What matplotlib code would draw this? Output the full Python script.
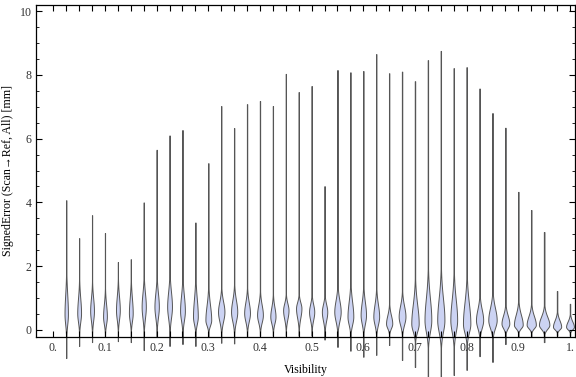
import matplotlib
matplotlib.use("Agg")
import matplotlib.pyplot as plt
import numpy as np


# Visibility bins (centre of each bin) and the distribution of the signed error per bin
visibility = [0.025, 0.05, 0.075, 0.1, 0.125, 0.15, 0.175, 0.2, 0.225, 0.25,
              0.275, 0.3, 0.325, 0.35, 0.375, 0.4, 0.425, 0.45, 0.475, 0.5,
              0.525, 0.55, 0.575, 0.6, 0.625, 0.65, 0.675, 0.7, 0.725, 0.75,
              0.775, 0.8, 0.825, 0.85, 0.875, 0.9, 0.925, 0.95, 0.975, 1.0]

err_min = [-0.88, -0.50, -0.38, -0.20, -0.35, -0.38, -0.63, -0.20, -0.50, -0.44,
           -0.50, -0.22, -0.40, -0.42, -0.20, -0.18, -0.18, -0.18, -0.18, -0.18,
           -0.30, -0.53, -0.65, -0.84, -0.78, -0.47, -0.94, -1.16, -1.55, -1.55,
           -1.41, -1.25, -0.82, -1.00, -0.44, -0.20, -0.20, -0.38, -0.18, -0.18]

err_max = [4.07, 2.88, 3.60, 3.04, 2.13, 2.22, 4.00, 5.65, 6.10, 6.27,
           3.37, 5.23, 7.02, 6.33, 7.08, 7.18, 7.02, 8.03, 7.46, 7.65,
           4.51, 8.15, 8.08, 8.12, 8.65, 8.05, 8.10, 7.80, 8.46, 8.75,
           8.21, 8.24, 7.57, 6.80, 6.34, 4.33, 3.76, 3.07, 1.22, 0.82]

# most frequent error, upper / lower end of the dense part
err_mode = [0.50, 0.53, 0.60, 0.42, 0.62, 0.53, 0.73, 0.73, 0.73, 0.60,
            0.42, 0.31, 0.57, 0.57, 0.53, 0.47, 0.42, 0.62, 0.68, 0.57,
            0.57, 0.57, 0.42, 0.47, 0.42, 0.20, 0.42, 0.20, 0.31, 0.31,
            0.31, 0.20, 0.31, 0.31, 0.20, 0.16, 0.16, 0.16, 0.10, 0.10]

body_top = [2.00, 1.67, 1.57, 1.36, 1.67, 1.67, 1.78, 1.78, 1.88, 1.78,
            1.78, 1.46, 1.36, 1.46, 1.36, 1.25, 1.15, 1.15, 1.15, 1.15,
            1.15, 1.46, 1.57, 1.46, 1.36, 0.84, 1.25, 1.67, 2.00, 2.00,
            1.90, 1.80, 1.15, 1.25, 0.84, 0.94, 0.84, 0.80, 0.60, 0.52]

body_bot = [-0.30, -0.15, -0.15, -0.15, -0.10, -0.10, -0.15, -0.10, -0.15, -0.15,
            -0.15, -0.10, -0.15, -0.15, -0.10, -0.10, -0.10, -0.05, -0.05, -0.05,
            -0.10, -0.15, -0.20, -0.20, -0.20, -0.15, -0.20, -0.40, -0.60, -0.60,
            -0.60, -0.50, -0.30, -0.30, -0.15, -0.10, -0.10, -0.15, -0.10, -0.10]

# relative peak density (width of the violin at its widest point)
peak_density = [2.3, 2.5, 2.5, 2.5, 2.5, 2.5, 2.7, 2.8, 3.0, 3.0,
                3.0, 3.5, 3.8, 3.7, 3.5, 3.5, 3.2, 3.3, 3.3, 3.2,
                3.3, 3.8, 3.5, 3.3, 3.5, 3.7, 4.0, 4.3, 4.0, 4.2,
                4.0, 4.3, 4.2, 4.8, 4.5, 5.0, 5.2, 5.8, 4.7, 4.5]

x_ticklabels = ["0.", "0.1", "0.2", "0.3", "0.4", "0.5", "0.6", "0.7", "0.8", "0.9", "1."]
y_ticklabels = ["0", "2", "4", "6", "8", "10"]

FONT = ["Liberation Serif", "DejaVu Serif"]
FILL = "#ccd3f3"
EDGE = "#555555"
TAIL = 0.06


def violin_stats(lo, hi, mode, top, bot):
    # smooth density outline: dense body around the mode, thin tails to min / max
    coords = np.linspace(lo, hi, 500)
    sd = np.where(coords < mode, (mode - bot) / 2.5, (top - mode) / 2.5)
    vals = np.exp(-0.5 * ((coords - mode) / sd) ** 2)
    vals = np.maximum(vals, TAIL)
    return dict(coords=coords, vals=vals, mean=mode, median=mode, min=lo, max=hi)


def main():
    plt.rcParams['font.family'] = FONT
    fig = plt.figure(figsize=(5.76, 3.77), dpi=100)
    ax = fig.add_axes([36 / 576, 1 - 337 / 377, 539 / 576, 332 / 377])

    stats = [violin_stats(*v) for v in zip(err_min, err_max, err_mode, body_top, body_bot)]
    # peak width read in pixels (outer edge); one unit of x is ~517 px
    widths = [2 * (d - 0.6) / 517 for d in peak_density]
    parts = ax.violin(stats, positions=visibility, widths=widths,
                      showmeans=False, showextrema=False, showmedians=False)
    for body in parts['bodies']:
        body.set_facecolor(FILL)
        body.set_edgecolor(EDGE)
        body.set_alpha(1)
        body.set_linewidth(0.7)
        body.set_clip_on(False)

    ax.set_xlim(-0.0335, 1.0097)
    ax.set_ylim(-0.22, 10.19)

    ax.set_xticks(np.arange(0, 41) * 0.025)
    ax.set_xticklabels([x_ticklabels[i // 4] if i % 4 == 0 else "" for i in range(41)])
    ax.set_yticks(np.arange(0, 11, 2))
    ax.set_yticklabels(y_ticklabels)
    ax.set_yticks(np.arange(0, 10.1, 0.5), minor=True)

    ax.tick_params(axis='x', which='major', direction='in', length=4, width=0.8,
                   top=True, labelsize=8.6, labelcolor='#333333', pad=3.5)
    ax.tick_params(axis='y', which='major', direction='in', length=4.5, width=0.8,
                   right=True, labelsize=8.6, labelcolor='#333333', pad=3)
    ax.tick_params(axis='y', which='minor', direction='in', length=2.5, width=0.6, right=True)
    for s in ax.spines.values():
        s.set_linewidth(0.9)

    ax.set_xlabel("Visibility", fontsize=8.6, labelpad=7)
    ax.set_ylabel("SignedError (Scan\u2192Ref, All) [mm]", fontsize=8.6, labelpad=4)

    fig.savefig("out.png", dpi=100)


if __name__ == "__main__":
    main()
